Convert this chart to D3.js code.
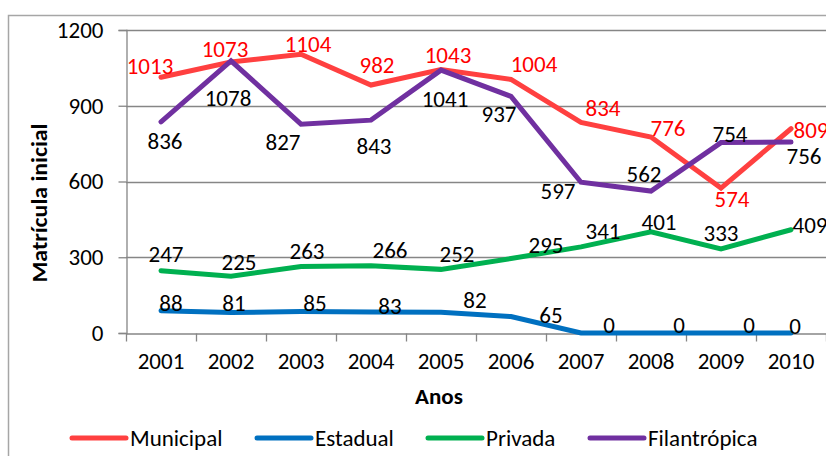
<!DOCTYPE html>
<html><head><meta charset="utf-8">
<script src="https://cdn.jsdelivr.net/npm/d3@7"></script>
<style>
html,body{margin:0;padding:0;background:#fff;overflow:hidden;}
text{font-family:Carlito,Calibri,Lato,sans-serif;}
</style></head>
<body><svg id="c" width="826" height="456"></svg>
<script>
const years = ["2001","2002","2003","2004","2005","2006","2007","2008","2009","2010"];
const municipal = [1013,1073,1104,982,1043,1004,834,776,574,809];
const estadual = [88,81,85,83,82,65,0,0,0,0];
const privada = [247,225,263,266,252,295,341,401,333,409];
const filantropica = [836,1078,827,843,1041,937,597,562,754,756];
const yTicks = [0,300,600,900,1200];
const seriesNames = ["Municipal","Estadual","Privada","Filantrópica"];

// label offsets (layout, px) per series
const offMun = [[-11,-11],[-6,-13],[7,-10],[6,-20],[7,-15],[23,-15],[22,-14],[17,-9],[11,11],[20,1]];
const offEst = [[10,-8],[3,-10],[14,-9],[19,-6],[34,-12],[40,-2],[28,-8],[28,-8],[28,-8],[4,-7]];
const offPri = [[5,-17],[8,-14],[6,-16],[19,-16],[16,-15],[35,-14],[22,-16],[8,-10],[0,-16],[19,-5]];
const offFil = [[4,19],[-3,37],[-18,18],[3,26],[4,29],[-12,18],[-23,9],[-7,-17],[9,-9],[13,14]];

const colors = ["#FF4040","#0070C0","#00B050","#7030A0"];
const labelColors = ["#FF0000","#000","#000","#000"];
const data = [municipal, estadual, privada, filantropica];
const offs = [offMun, offEst, offPri, offFil];

const svg = d3.select("#c");
const fs = 23;
const x = d3.scaleBand().domain(years).range([126,826]);
const y = d3.scaleLinear().domain([0,1200]).range([333,30]);
const gridCol = "#868686";

svg.append("rect").attr("x",8.5).attr("y",15.5).attr("width",830).attr("height",460)
  .attr("fill","none").attr("stroke","#A6A6A6").attr("stroke-width",1.5);

// gridlines
svg.append("g").selectAll("line").data(yTicks.filter(d=>d>0)).join("line")
  .attr("x1",126).attr("x2",826).attr("y1",d=>Math.round(y(d))+0.5).attr("y2",d=>Math.round(y(d))+0.5)
  .attr("stroke",gridCol).attr("stroke-width",1.3);

// y axis
const ya = svg.append("g").attr("transform","translate(126.5,0)")
  .call(d3.axisLeft(y).tickValues(yTicks).tickSize(8).tickPadding(15).tickFormat(d3.format("d")));
ya.select(".domain").attr("stroke",gridCol).attr("stroke-width",1.3);
ya.selectAll(".tick line").attr("stroke",gridCol).attr("stroke-width",1.3);
ya.selectAll(".tick text").attr("font-size",fs).attr("fill","#000").attr("font-family",null);

// x axis
const xa = svg.append("g").attr("transform","translate(0,333.5)")
  .call(d3.axisBottom(x).tickSize(0).tickPadding(19));
xa.select(".domain").attr("stroke",gridCol).attr("stroke-width",1.3);
xa.selectAll(".tick text").attr("font-size",fs).attr("fill","#000").attr("font-family",null);
xa.selectAll(".tick line").remove();
const bounds = years.map(d=>x(d)).concat([x(years[years.length-1])+x.bandwidth()]);
xa.selectAll("line.tk").data(bounds).join("line").attr("class","tk")
  .attr("x1",d=>d+0.5).attr("x2",d=>d+0.5).attr("y1",0).attr("y2",8)
  .attr("stroke",gridCol).attr("stroke-width",1.3);

// axis titles
svg.append("text").attr("x",439).attr("y",404).attr("text-anchor","middle")
  .attr("font-size",fs).attr("font-weight","bold").text("Anos");
svg.append("text").attr("transform","translate(47,203) rotate(-90)").attr("text-anchor","middle")
  .attr("font-size",22).attr("font-weight","bold")
  .attr("textLength",159).attr("lengthAdjust","spacingAndGlyphs").text("Matrícula inicial");

const cx = d => x(d) + x.bandwidth()/2;
const line = d3.line().x((d,i)=>cx(years[i])).y(d=>y(d));

data.forEach((s,k)=>{
  svg.append("path").attr("d",line(s)).attr("fill","none").attr("stroke",colors[k])
    .attr("stroke-width",5).attr("stroke-linecap","round").attr("stroke-linejoin","miter");
});
data.forEach((s,k)=>{
  svg.append("g").selectAll("text").data(s).join("text")
    .attr("x",(d,i)=>cx(years[i])+offs[k][i][0])
    .attr("y",(d,i)=>y(d)+offs[k][i][1])
    .attr("text-anchor","middle").attr("dominant-baseline","central")
    .attr("font-size",fs).attr("fill",labelColors[k]).text(d=>d);
});

// legend
const legX = [72,257,428,590];
seriesNames.forEach((n,k)=>{
  svg.append("line").attr("x1",legX[k]).attr("x2",legX[k]+54).attr("y1",438).attr("y2",438)
    .attr("stroke",colors[k]).attr("stroke-width",5).attr("stroke-linecap","round");
  svg.append("text").attr("x",legX[k]+58).attr("y",446).attr("font-size",fs).attr("fill","#000").text(n);
});
</script></body></html>
